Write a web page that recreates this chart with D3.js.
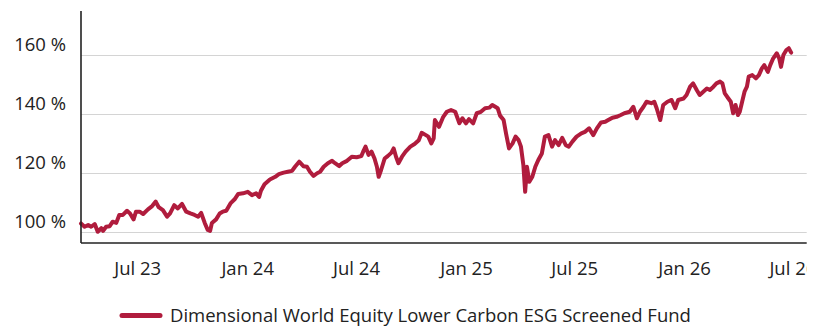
<!DOCTYPE html>
<html>
<head>
<meta charset="utf-8">
<script src="https://cdn.jsdelivr.net/npm/d3@7"></script>
<style>
  html, body { margin: 0; padding: 0; background: #fff; }
  svg { display: block; }
  text { font-family: "Open Sans", "Noto Sans", sans-serif; fill: #222; }
</style>
</head>
<body>
<svg id="chart" width="822" height="329"></svg>
<script>
// Fund performance, indexed to 100 %
const seriesName = "Dimensional World Equity Lower Carbon ESG Screened Fund";

const dates = [
  "2023-03-29","2023-04-04","2023-04-10","2023-04-15","2023-04-21","2023-04-26","2023-05-02","2023-05-05",
  "2023-05-10","2023-05-16","2023-05-21","2023-05-27","2023-06-01","2023-06-07","2023-06-14","2023-06-19",
  "2023-06-25","2023-06-29","2023-07-05","2023-07-11","2023-07-19","2023-07-26","2023-08-01","2023-08-06",
  "2023-08-13","2023-08-20","2023-08-25","2023-09-01","2023-09-07","2023-09-14","2023-09-21","2023-09-28",
  "2023-10-05","2023-10-11","2023-10-16","2023-10-22","2023-10-27","2023-10-31","2023-11-03","2023-11-10",
  "2023-11-16","2023-11-21","2023-11-27","2023-12-04","2023-12-11","2023-12-17","2023-12-25","2024-01-02",
  "2024-01-09","2024-01-16","2024-01-21","2024-01-24","2024-01-30",
  "2024-02-08","2024-02-17","2024-02-23","2024-03-02","2024-03-09","2024-03-16","2024-03-21","2024-03-28",
  "2024-04-04","2024-04-10","2024-04-15","2024-04-21","2024-04-27","2024-05-02","2024-05-08","2024-05-15",
  "2024-05-22","2024-05-27","2024-06-03","2024-06-08","2024-06-16","2024-06-24","2024-07-02","2024-07-10",
  "2024-07-13","2024-07-17","2024-07-22","2024-07-27","2024-08-01","2024-08-05","2024-08-08","2024-08-12",
  "2024-08-18","2024-08-23","2024-08-29","2024-09-02","2024-09-06","2024-09-10","2024-09-16","2024-09-22",
  "2024-09-30","2024-10-07","2024-10-14","2024-10-19","2024-10-26","2024-10-30","2024-11-04","2024-11-08",
  "2024-11-10","2024-11-17","2024-11-24","2024-11-30","2024-12-07","2024-12-14","2024-12-21","2024-12-26",
  "2025-01-01","2025-01-06","2025-01-13","2025-01-19","2025-01-26","2025-02-02","2025-02-09","2025-02-14",
  "2025-02-19","2025-02-23","2025-02-27","2025-03-05","2025-03-09","2025-03-14","2025-03-20","2025-03-25",
  "2025-03-30","2025-04-03","2025-04-07","2025-04-10","2025-04-13","2025-04-17","2025-04-22","2025-04-27",
  "2025-05-02","2025-05-08","2025-05-13","2025-05-19","2025-05-25","2025-05-30","2025-06-05","2025-06-11",
  "2025-06-17","2025-06-22","2025-06-28","2025-07-05","2025-07-13","2025-07-19","2025-07-26","2025-08-02",
  "2025-08-08","2025-08-15","2025-08-22","2025-08-27","2025-09-03","2025-09-10","2025-09-17","2025-09-23",
  "2025-10-02","2025-10-08","2025-10-14","2025-10-19","2025-10-25","2025-10-30","2025-11-07","2025-11-12",
  "2025-11-16","2025-11-22","2025-11-27","2025-12-04","2025-12-11","2025-12-17","2025-12-22","2025-12-31",
  "2026-01-05","2026-01-11","2026-01-16","2026-01-22","2026-01-27","2026-02-02","2026-02-08","2026-02-13",
  "2026-02-19","2026-02-24","2026-03-02","2026-03-06","2026-03-10","2026-03-16","2026-03-20","2026-03-24",
  "2026-03-28","2026-04-01","2026-04-04","2026-04-08","2026-04-12","2026-04-16","2026-04-19","2026-04-25",
  "2026-05-01","2026-05-06","2026-05-11","2026-05-15","2026-05-21","2026-05-25","2026-05-30","2026-06-05",
  "2026-06-09","2026-06-12","2026-06-16","2026-06-21","2026-06-25","2026-06-29"
];

const values = [
  103.0,101.9,102.5,101.9,102.8,100.2,101.4,100.5,
  101.9,102.1,103.6,103.2,105.9,105.9,107.3,106.4,
  104.4,107.0,107.0,106.2,107.8,108.9,110.4,108.5,
  107.5,105.3,106.4,109.2,108.1,109.6,107.0,106.4,
  105.9,105.3,106.6,103.2,100.8,100.5,103.2,104.4,
  106.4,107.0,107.3,109.8,111.2,113.0,113.2,113.7,
  112.6,113.2,112.0,114.1,116.3,
  117.9,118.8,119.7,120.2,120.5,120.8,122.2,123.9,
  122.4,122.2,120.5,119.1,120.0,120.5,122.2,123.4,
  124.2,123.4,122.4,123.4,124.2,125.6,125.4,125.8,
  127.3,129.0,126.2,127.3,125.0,122.2,118.8,121.1,
  125.0,125.8,126.9,128.4,125.6,123.4,125.6,127.3,
  129.0,129.9,131.2,133.7,132.9,132.4,130.1,131.8,
  138.0,135.7,139.1,140.8,141.4,140.8,136.9,138.6,
  136.9,138.3,136.9,140.3,140.8,142.0,142.2,143.1,
  142.5,142.0,139.5,138.0,133.5,128.4,130.1,132.4,
  131.2,129.0,122.8,113.7,122.2,117.1,118.8,122.2,
  124.5,126.7,132.4,132.9,129.0,131.2,129.5,132.0,
  129.5,129.0,130.7,132.4,133.5,134.0,135.2,132.9,
  135.2,137.2,137.4,138.0,138.8,139.1,139.7,140.3,
  140.8,142.5,138.6,140.8,142.5,144.2,143.7,144.2,
  142.0,138.0,143.1,144.2,144.8,142.0,144.8,145.3,
  146.5,149.3,150.4,148.2,146.5,147.6,148.7,148.2,
  149.3,150.4,151.0,150.4,147.0,145.3,144.2,140.3,
  143.1,139.7,140.8,144.2,147.6,149.3,152.7,153.2,
  152.1,153.2,155.5,156.6,154.3,156.6,158.9,160.6,
  158.9,156.0,160.0,161.7,162.3,160.8
];

const yTicks = [100, 120, 140, 160];
const xTickDates = ["2023-07-01","2024-01-01","2024-07-01","2025-01-01","2025-07-01","2026-01-01","2026-07-01"];
const xDomain = ["2023-03-29","2026-07-25"];
const yDomain = [96.4, 174.9];

const lineColor = "#b01c3d";
const parse = d3.timeParse("%Y-%m-%d");
const data = dates.map((d, i) => ({ date: parse(d), value: values[i] }));

const plot = { left: 81, right: 806.7, top: 11, bottom: 243 };
const fontSize = "18.5px";

const svg = d3.select("#chart");

const x = d3.scaleTime()
  .domain(xDomain.map(parse))
  .range([plot.left, plot.right]);

const y = d3.scaleLinear()
  .domain(yDomain)
  .range([plot.bottom, plot.top]);

// horizontal gridlines
svg.append("g")
  .selectAll("line")
  .data(yTicks)
  .join("line")
  .attr("x1", plot.left)
  .attr("x2", plot.right)
  .attr("y1", d => Math.round(y(d)) + 0.5)
  .attr("y2", d => Math.round(y(d)) + 0.5)
  .attr("stroke", "#d4d4d4")
  .attr("stroke-width", 1.2);

// y axis labels, sitting just above their gridline
const yAxis = d3.axisLeft(y)
  .tickValues(yTicks)
  .tickSize(0)
  .tickFormat(d => d + " %");

svg.append("g")
  .attr("transform", `translate(${plot.left},0)`)
  .call(yAxis)
  .call(g => g.select(".domain").remove())
  .call(g => g.selectAll("text")
    .attr("x", -15)
    .attr("dy", "-5px")
    .attr("font-size", fontSize)
    .attr("font-family", "'Open Sans', sans-serif")
    .attr("fill", "#222"));

// clip so the last month label is cut at the plot edge
svg.append("clipPath")
  .attr("id", "xclip")
  .append("rect")
  .attr("x", 0).attr("y", 0)
  .attr("width", plot.right).attr("height", 329);

const xAxis = d3.axisBottom(x)
  .tickValues(xTickDates.map(parse))
  .tickSize(0)
  .tickFormat(d3.timeFormat("%b %y"));

svg.append("g")
  .attr("clip-path", "url(#xclip)")
  .append("g")
  .attr("transform", `translate(0,${plot.bottom})`)
  .call(xAxis)
  .call(g => g.select(".domain").remove())
  .call(g => g.selectAll("text")
    .attr("y", 32)
    .attr("dy", 0)
    .attr("font-size", fontSize)
    .attr("font-family", "'Open Sans', sans-serif")
    .attr("fill", "#222"));

// series line
const line = d3.line()
  .x(d => x(d.date))
  .y(d => y(d.value))
  .curve(d3.curveLinear);

svg.append("path")
  .datum(data)
  .attr("d", line)
  .attr("fill", "none")
  .attr("stroke", lineColor)
  .attr("stroke-width", 4)
  .attr("stroke-linejoin", "round")
  .attr("stroke-linecap", "round");

// axis lines
svg.append("line")
  .attr("x1", plot.left).attr("x2", plot.left)
  .attr("y1", plot.top).attr("y2", plot.bottom)
  .attr("stroke", "#222").attr("stroke-width", 1.6);

svg.append("line")
  .attr("x1", plot.left).attr("x2", plot.right)
  .attr("y1", plot.bottom).attr("y2", plot.bottom)
  .attr("stroke", "#222").attr("stroke-width", 1.6);

// legend
const legend = svg.append("g").attr("transform", "translate(121,315.5)");
legend.append("line")
  .attr("x1", 1).attr("x2", 39)
  .attr("y1", 0).attr("y2", 0)
  .attr("stroke", lineColor)
  .attr("stroke-width", 5)
  .attr("stroke-linecap", "round");
legend.append("text")
  .attr("x", 49)
  .attr("y", 6.7)
  .attr("font-size", fontSize)
  .attr("fill", "#222")
  .text(seriesName);
</script>
</body>
</html>
